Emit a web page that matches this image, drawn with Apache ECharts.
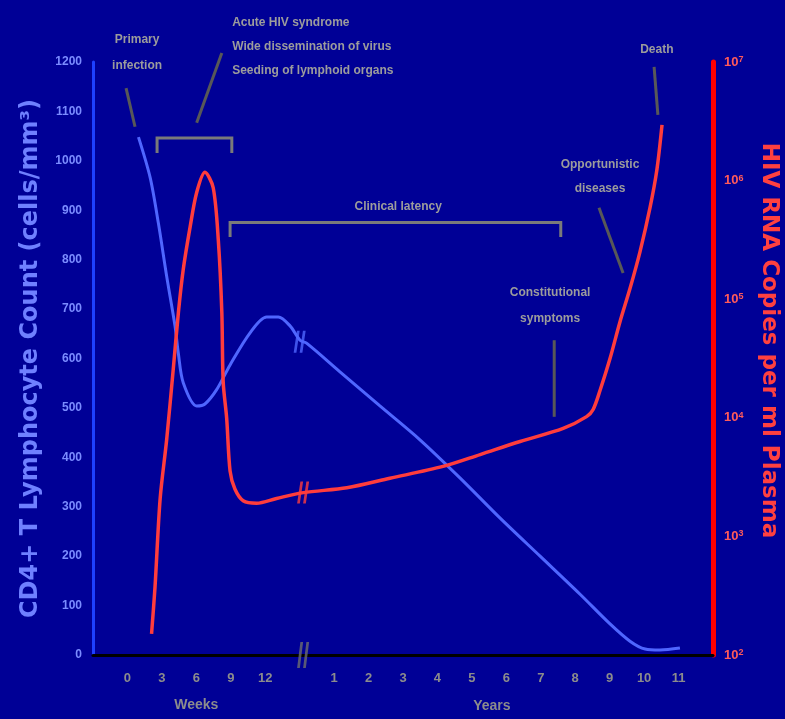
<!DOCTYPE html>
<html>
<head>
<meta charset="utf-8">
<script src="https://cdn.jsdelivr.net/npm/echarts@6/dist/echarts.min.js"></script>
<style>
html,body{margin:0;padding:0;background:#000096;}
#c{width:785px;height:719px;}
</style>
</head>
<body>
<div id="c"></div>
<script>
// x positions are axis slots: 0..4 = weeks 0,3,6,9,12 ; 5 = break ; 6..16 = years 1..11
const xTickLabels = ['0','3','6','9','12','','1','2','3','4','5','6','7','8','9','10','11'];

// CD4+ T lymphocyte count (cells/mm3)
const cd4X = [0.32,0.66,0.90,1.14,1.38,1.48,1.62,2.01,2.25,2.59,2.98,3.56,4.04,4.38,4.72,5.01,5.2,6.17,7.33,8.5,9.66,10.82,11.98,13.14,14.01,14.59,15.03,15.46,16.04];
const cd4Values = [1048,966,873,766,666,609,551,504,508,537,587,652,684,684,666,637,631,573,504,435,358,277,200,123,63,28,12,10,14];

// HIV RNA copies per ml plasma
const rnaX = [0.70,0.80,0.95,1.14,1.33,1.48,1.62,1.82,2.01,2.25,2.49,2.64,2.74,2.78,2.88,2.98,3.12,3.36,3.75,4.33,5.11,6.37,7.62,9.16,10.24,11.4,12.65,13.33,13.52,13.72,14.01,14.30,14.59,14.88,15.17,15.37,15.52];
const rnaValues = [151,372,2090,6600,25700,77600,178000,407000,794000,1175000,871000,309000,77600,20000,10000,3550,2510,2000,1905,2090,2340,2570,3090,3890,4900,6310,8130,10230,11750,17000,31600,64600,123000,251000,589000,1230000,2950000];

// break marks on each curve and on the x axis
const breakX = 5.1;
const cd4Break = 634;
const rnaBreak = 2340;

// annotation texts
const labelPrimary = 'Primary\ninfection';
const labelAcute = 'Acute HIV syndrome\nWide dissemination of virus\nSeeding of lymphoid organs';
const labelLatency = 'Clinical latency';
const labelConstitutional = 'Constitutional\nsymptoms';
const labelOpportunistic = 'Opportunistic\ndiseases';
const labelDeath = 'Death';
const labelWeeks = 'Weeks';
const labelYears = 'Years';

const cd4Data = cd4X.map((x, i) => [x, cd4Values[i]]);
const rnaData = rnaX.map((x, i) => [x, rnaValues[i]]);
const breakSymbol = 'path://M3,0 L5.5,0 L2.5,10 L0,10 Z M8.5,0 L11,0 L8,10 L5.5,10 Z';

const chart = echarts.init(document.getElementById('c'));
const option = {
  backgroundColor: '#000096',
  animation: false,
  grid: { left: 93, right: 72, top: 62, bottom: 64, containLabel: false, outerBoundsMode: 'none' },
  xAxis: {
    type: 'value', min: -1, max: 17, interval: 1,
    axisLine: { lineStyle: { color: '#000000', width: 3 } },
    axisTick: { show: false },
    splitLine: { show: false },
    axisLabel: {
      margin: 17, color: '#8c8c8c', fontSize: 13, fontWeight: 'bold', fontFamily: 'Liberation Sans',
      formatter: v => (v >= 0 && v < xTickLabels.length) ? xTickLabels[v] : ''
    }
  },
  yAxis: [{
    type: 'value', min: 0, max: 1200, interval: 100, position: 'left',
    axisLine: { show: true, onZero: false, lineStyle: { color: '#1e40ff', width: 3 } },
    axisTick: { show: false }, splitLine: { show: false },
    axisLabel: { margin: 11, color: '#7b8cff', fontSize: 12, fontWeight: 'bold', fontFamily: 'Liberation Sans',
      formatter: v => String(v) },
    name: 'CD4+ T Lymphocyte Count (cells/mm³)', nameLocation: 'middle', nameGap: 50,
    nameTextStyle: { color: '#6f80ff', fontSize: 24, fontWeight: 'bold', fontFamily: 'DejaVu Sans' }
  }, {
    type: 'log', logBase: 10, min: 100, max: 10000000, position: 'right',
    axisLine: { show: true, onZero: false, lineStyle: { color: '#ff0000', width: 5 } },
    axisTick: { show: false }, splitLine: { show: false },
    axisLabel: {
      margin: 11, color: '#ff5a5a', fontSize: 13, fontWeight: 'bold', fontFamily: 'Liberation Sans',
      formatter: v => '10{s|' + Math.round(Math.log10(v)) + '}',
      rich: { s: { fontSize: 9, fontWeight: 'bold', color: '#ff5a5a', verticalAlign: 'top', lineHeight: 14 } }
    },
    name: 'HIV RNA Copies per ml Plasma', nameLocation: 'middle', nameGap: 44, nameRotate: -90,
    nameTextStyle: { color: '#ff4040', fontSize: 23, fontWeight: 'bold', fontFamily: 'DejaVu Sans', padding: [0, 36, 0, 0] }
  }],
  series: [{
    type: 'line', name: 'CD4', yAxisIndex: 0, data: cd4Data, smooth: 0.3, showSymbol: false,
    lineStyle: { color: '#4f66ff', width: 3 }, z: 3
  }, {
    type: 'line', name: 'RNA', yAxisIndex: 1, data: rnaData, smooth: 0.3, showSymbol: false,
    lineStyle: { color: '#ff3c3c', width: 3.5 }, z: 4
  }, {
    type: 'scatter', yAxisIndex: 0, data: [[breakX - 0.1, cd4Break]], symbol: breakSymbol, symbolSize: [12, 22],
    itemStyle: { color: '#4f66ff' }, z: 5, silent: true
  }, {
    type: 'scatter', yAxisIndex: 1, data: [[breakX, rnaBreak]], symbol: breakSymbol, symbolSize: [12, 22],
    itemStyle: { color: '#ff3c3c' }, z: 5, silent: true
  }, {
    type: 'scatter', yAxisIndex: 0, data: [[breakX, 0]], symbol: breakSymbol, symbolSize: [12, 26],
    itemStyle: { color: '#6e6e6e' }, z: 6, silent: true, clip: false
  }]
};
chart.setOption(option);

// annotation layout in data coordinates (x slot, CD4 scale)
const P = (x, v) => chart.convertToPixel({ xAxisIndex: 0, yAxisIndex: 0 }, [x, v]);
const textStyle = { fill: '#9c9c9c', fontSize: 12, fontWeight: 'bold', fontFamily: 'Liberation Sans', lineHeight: 26 };
function txt(t, x, v, align, lh) {
  const p = P(x, v);
  return { type: 'text', x: p[0], y: p[1], z: 10,
    style: Object.assign({}, textStyle, { text: t, align: align, verticalAlign: 'middle', lineHeight: lh || 26 }) };
}
function poly(points, color, w) {
  return { type: 'polyline', z: 9, shape: { points: points.map(q => P(q[0], q[1])) },
    style: { stroke: color, lineWidth: w, fill: null } };
}
const bracketColor = '#7a7a7a';
const leaderColor = '#585858';
const ax0 = P(0, 0);
const graphics = [
  txt(labelPrimary, 0.28, 1218, 'center'),
  poly([[-0.04, 1147], [0.22, 1069]], leaderColor, 3),
  poly([[0.86, 1016], [0.86, 1046], [3.03, 1046], [3.03, 1016]], bracketColor, 3),
  txt(labelAcute, 3.04, 1230, 'left', 24),
  poly([[2.74, 1218], [2.01, 1077]], leaderColor, 3),
  poly([[2.98, 846], [2.98, 875], [12.58, 875], [12.58, 846]], bracketColor, 3),
  txt(labelLatency, 7.86, 907, 'center'),
  txt(labelConstitutional, 12.27, 706, 'center'),
  poly([[12.39, 637], [12.39, 482]], leaderColor, 3),
  txt(labelOpportunistic, 13.72, 968, 'center', 24),
  poly([[13.69, 905], [14.39, 773]], leaderColor, 3),
  txt(labelDeath, 15.37, 1224, 'center'),
  poly([[15.29, 1190], [15.4, 1093]], leaderColor, 3),
  { type: 'text', x: P(2, 0)[0], y: ax0[1] + 50, z: 10,
    style: Object.assign({}, textStyle, { text: labelWeeks, fontSize: 14, fill: '#8c8c8c', align: 'center', verticalAlign: 'middle' }) },
  { type: 'text', x: P(10.58, 0)[0], y: ax0[1] + 51, z: 10,
    style: Object.assign({}, textStyle, { text: labelYears, fontSize: 14, fill: '#8c8c8c', align: 'center', verticalAlign: 'middle' }) }
];
chart.setOption({ graphic: graphics });
</script>
</body>
</html>
